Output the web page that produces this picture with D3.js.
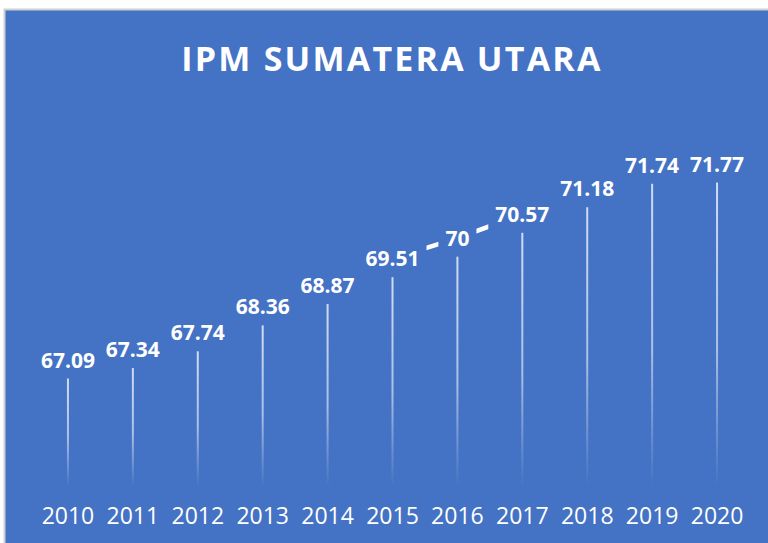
<!DOCTYPE html>
<html>
<head>
<meta charset="utf-8">
<script src="https://cdn.jsdelivr.net/npm/d3@7"></script>
<style>
  html, body { margin: 0; padding: 0; background: #ffffff; }
  svg { display: block; }
</style>
</head>
<body>
<svg id="chart" width="768" height="543"></svg>
<script>
const title = "IPM SUMATERA UTARA";
const years = ["2010","2011","2012","2013","2014","2015","2016","2017","2018","2019","2020"];
const ipm = [67.09, 67.34, 67.74, 68.36, 68.87, 69.51, 70, 70.57, 71.18, 71.74, 71.77];
const yDomain = [64.5, 72];

const W = 768, H = 543;
const svg = d3.select("#chart");
const BLUE = "#4472C4";

// outer frame
svg.append("rect").attr("x", 0).attr("y", 0).attr("width", W).attr("height", H).attr("fill", "#ffffff");
svg.append("rect").attr("x", 4.5).attr("y", 9.5).attr("width", W).attr("height", H)
  .attr("fill", BLUE).attr("stroke", "#d0d0d0").attr("stroke-width", 2);

// title
svg.append("text")
  .attr("x", 392).attr("y", 71)
  .attr("text-anchor", "middle")
  .attr("font-family", "'Open Sans', sans-serif")
  .attr("font-weight", "700")
  .attr("font-size", 34)
  .attr("letter-spacing", "2.2px")
  .attr("fill", "#ffffff")
  .text(title);

const x = d3.scaleBand().domain(years).range([35.5, 749.5]).padding(0);
const y = d3.scaleLinear().domain(yDomain).range([487, 172.9]);

const defs = svg.append("defs");
const grad = defs.append("linearGradient").attr("id", "fade")
  .attr("x1", 0).attr("y1", 0).attr("x2", 0).attr("y2", 1);
grad.append("stop").attr("offset", "0").attr("stop-color", "#ffffff").attr("stop-opacity", 0.75);
grad.append("stop").attr("offset", "0.55").attr("stop-color", "#ffffff").attr("stop-opacity", 0.55);
grad.append("stop").attr("offset", "1").attr("stop-color", "#ffffff").attr("stop-opacity", 0);

const cx = d => x(d) + x.bandwidth() / 2;
const g = svg.append("g");

// drop lines
g.selectAll("rect.drop").data(years).join("rect")
  .attr("class", "drop")
  .attr("x", d => cx(d) - 1)
  .attr("y", (d, i) => y(ipm[i]))
  .attr("width", 2)
  .attr("height", (d, i) => y(yDomain[0]) - y(ipm[i]))
  .attr("fill", "url(#fade)");

// leader line through label centres (mostly hidden behind label boxes)
const labelOffset = 11;  // baseline above point
const fs = 21;
const labelCenterY = i => y(ipm[i]) - labelOffset - fs * 0.36;
const line = d3.line().x((d, i) => cx(years[i])).y((d, i) => labelCenterY(i));
g.append("path").datum(ipm)
  .attr("d", line)
  .attr("fill", "none")
  .attr("stroke", "#ffffff")
  .attr("stroke-width", 4.5);

// label backgrounds + text
const labels = g.selectAll("g.lab").data(ipm).join("g").attr("class", "lab");
labels.append("text")
  .attr("x", (d, i) => cx(years[i]))
  .attr("y", d => y(d) - labelOffset)
  .attr("text-anchor", "middle")
  .attr("font-family", "'Open Sans', sans-serif")
  .attr("font-weight", "700")
  .attr("font-size", fs)
  .attr("fill", "#ffffff")
  .text(d => String(d));
labels.each(function () {
  const t = d3.select(this).select("text");
  const b = t.node().getBBox();
  d3.select(this).insert("rect", "text")
    .attr("x", b.x - 7).attr("y", b.y - 2)
    .attr("width", b.width + 14).attr("height", b.height + 4)
    .attr("fill", BLUE);
});

// x axis labels
const axis = d3.axisBottom(x).tickSize(0).tickPadding(0);
const ax = svg.append("g").attr("transform", "translate(0,508)").call(axis);
ax.select(".domain").remove();
ax.selectAll("text")
  .attr("font-family", "'Open Sans', sans-serif")
  .attr("font-size", 23)
  .attr("fill", "#ffffff")
  .attr("dy", "0.71em");
</script>
</body>
</html>
